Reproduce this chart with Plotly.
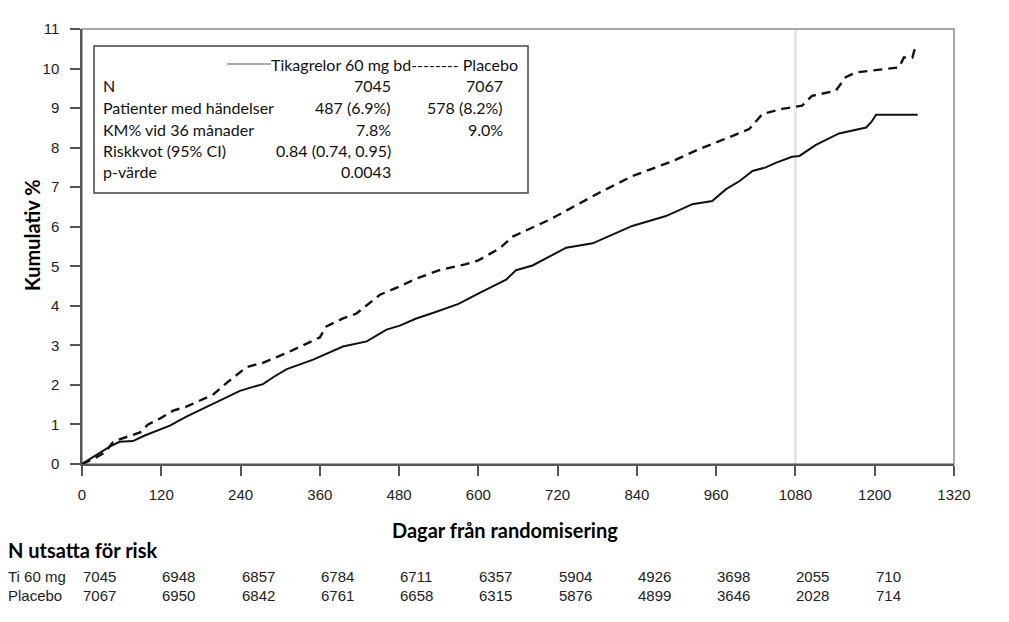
"""
Kaplan-Meier-kurva: kumulativ incidens, Tikagrelor 60 mg bd vs placebo,
med risktabell under x-axeln.
"""

import plotly.graph_objects as go

# Avlästa punkter (dag, kumulativ %)
tica_days = [0, 20, 42, 57, 77, 95, 118, 133, 158, 174, 209, 239, 259, 274, 290,
             310, 350, 395, 431, 461, 481, 506, 531, 570, 602, 642, 657, 682, 733,
             773, 833, 884, 924, 954, 975, 995, 1015, 1035, 1051, 1075, 1086, 1111,
             1146, 1187, 1195, 1202, 1265]
tica_pct = [0, 0.2, 0.44, 0.56, 0.58, 0.72, 0.88, 0.97, 1.2, 1.33, 1.62, 1.85, 1.95,
            2.02, 2.2, 2.4, 2.64, 2.97, 3.1, 3.4, 3.5, 3.68, 3.82, 4.05, 4.33, 4.66,
            4.9, 5.02, 5.47, 5.58, 6.02, 6.27, 6.57, 6.65, 6.95, 7.15, 7.41, 7.5,
            7.62, 7.77, 7.79, 8.07, 8.36, 8.51, 8.65, 8.83, 8.83]

plac_days = [0, 20, 35, 47, 53, 88, 100, 118, 138, 158, 198, 219, 249, 274, 310,
             350, 360, 370, 395, 415, 451, 481, 506, 541, 580, 600, 632, 652, 708,
             783, 833, 894, 934, 985, 1010, 1030, 1060, 1090, 1105, 1141, 1156, 1171,
             1237, 1244, 1257, 1262]
plac_pct = [0, 0.15, 0.3, 0.55, 0.6, 0.8, 1.0, 1.15, 1.35, 1.45, 1.75, 2.05, 2.45,
            2.56, 2.81, 3.12, 3.2, 3.48, 3.68, 3.8, 4.28, 4.49, 4.69, 4.9, 5.05, 5.15,
            5.45, 5.75, 6.18, 6.86, 7.28, 7.66, 7.96, 8.3, 8.47, 8.85, 8.98, 9.06,
            9.31, 9.44, 9.78, 9.9, 10.03, 10.28, 10.28, 10.58]

# Risktabell
risk_days = [0, 120, 240, 360, 480, 600, 720, 840, 960, 1080, 1200]
risk_tica = [7045, 6948, 6857, 6784, 6711, 6357, 5904, 4926, 3698, 2055, 710]
risk_plac = [7067, 6950, 6842, 6761, 6658, 6315, 5876, 4899, 3646, 2028, 714]
risk_labels = ["Ti 60 mg", "Placebo"]

# Sammanfattningsruta
box_labels = ["N", "Patienter med händelser", "KM% vid 36 månader",
              "Riskkvot (95% CI)", "p-värde"]
box_tica = ["7045", "487 (6.9%)", "7.8%", "0.84 (0.74, 0.95)", "0.0043"]
box_plac = ["7067", "578 (8.2%)", "9.0%", "", ""]

x_ticks = list(range(0, 1321, 120))
y_ticks = list(range(0, 12))

# sidan har 8 px marginal, så figuren görs 8 px mindre och förskjuts
W, H = 1001, 614
L, R, T, B = 74, 55, 21, 158
PLOT_X0, PLOT_X1, PLOT_Y0, PLOT_Y1 = 82, 954, 29, 464   # i referensens pixlar


def px_x(px):
    return (px - PLOT_X0) / (PLOT_X1 - PLOT_X0)


def px_y(py):
    return (PLOT_Y1 - py) / (PLOT_Y1 - PLOT_Y0)


TITLE_FONT = dict(family="Lato, Open Sans, sans-serif", size=20, color="#000")
BOX_FONT = dict(family="Lato, Open Sans, sans-serif", size=16, color="#111")
TICK_FONT = dict(family="Liberation Sans, Arial, sans-serif", size=15, color="#222")

fig = go.Figure()

fig.add_trace(go.Scatter(
    x=plac_days, y=plac_pct, mode="lines",
    line=dict(color="#111", width=2.4, dash="9px,6px"),
    name="Placebo",
))
fig.add_trace(go.Scatter(
    x=tica_days, y=tica_pct, mode="lines",
    line=dict(color="#111", width=2),
    name="Tikagrelor 60 mg bd",
))

# ljusgrå linje vid 36 månader
fig.add_vline(x=1080, line_color="#e6e6e6", line_width=3, layer="below")

# ram runt plottytan
fig.add_shape(type="rect", xref="paper", yref="paper", x0=0, x1=1, y0=0, y1=1,
              line=dict(color="#8a8a8a", width=1.5), layer="below")

# sammanfattningsruta
fig.add_shape(type="rect", xref="paper", yref="paper",
              x0=px_x(94), x1=px_x(528), y0=px_y(193), y1=px_y(46),
              line=dict(color="#444", width=1.5), fillcolor="white")
fig.add_shape(type="line", xref="paper", yref="paper",
              x0=px_x(227), x1=px_x(271), y0=px_y(64), y1=px_y(64),
              line=dict(color="#555", width=1))
fig.add_annotation(text="Tikagrelor 60 mg bd-------- Placebo", xref="paper", yref="paper",
                   x=px_x(520), y=px_y(64), xanchor="right", yanchor="middle",
                   showarrow=False, font=BOX_FONT)

row_y = [85, 107, 129, 150, 172]
for lab, v1, v2, ry in zip(box_labels, box_tica, box_plac, row_y):
    fig.add_annotation(text=lab, xref="paper", yref="paper", x=px_x(101), y=px_y(ry),
                       xanchor="left", yanchor="middle", showarrow=False, font=BOX_FONT)
    fig.add_annotation(text=v1, xref="paper", yref="paper", x=px_x(393), y=px_y(ry),
                       xanchor="right", yanchor="middle", showarrow=False, font=BOX_FONT)
    if v2:
        fig.add_annotation(text=v2, xref="paper", yref="paper", x=px_x(505), y=px_y(ry),
                           xanchor="right", yanchor="middle", showarrow=False,
                           font=BOX_FONT)

# axeltitlar
fig.add_annotation(text="<b>Dagar från randomisering</b>", xref="paper", yref="paper",
                   x=px_x(505), y=px_y(530), xanchor="center", yanchor="middle",
                   showarrow=False, font=TITLE_FONT)
fig.add_annotation(text="<b>Kumulativ %</b>", xref="paper", yref="paper",
                   x=px_x(32), y=px_y(235), xanchor="center", yanchor="middle",
                   textangle=-90, showarrow=False, font=TITLE_FONT)

# risktabell
fig.add_annotation(text="<b>N utsatta för risk</b>", xref="paper", yref="paper",
                   x=px_x(6), y=px_y(550), xanchor="left", yanchor="middle",
                   showarrow=False, font=TITLE_FONT)
for lab, vals, ry in zip(risk_labels, [risk_tica, risk_plac], [576, 595]):
    fig.add_annotation(text=lab, xref="paper", yref="paper", x=px_x(6), y=px_y(ry),
                       xanchor="left", yanchor="middle", showarrow=False, font=TICK_FONT)
    for d, v in zip(risk_days, vals):
        fig.add_annotation(text=str(v), xref="x", yref="paper", x=d, y=px_y(ry),
                           xanchor="left", yanchor="middle", showarrow=False,
                           xshift=-1, font=TICK_FONT)

fig.update_xaxes(
    range=[0, 1320], tickvals=x_ticks, ticks="outside", ticklen=10, tickwidth=1.5,
    tickcolor="#555", showline=True, linecolor="#555", linewidth=1.5,
    showgrid=False, zeroline=False, tickfont=TICK_FONT, ticklabelstandoff=6,
)
fig.update_yaxes(
    range=[0, 11], tickvals=y_ticks, ticks="outside", ticklen=10, tickwidth=1.5,
    tickcolor="#555", showline=True, linecolor="#555", linewidth=1.5,
    showgrid=False, zeroline=False, tickfont=TICK_FONT, ticklabelstandoff=8,
)

fig.update_layout(
    width=W, height=H,
    margin=dict(l=L, r=R, t=T, b=B),
    plot_bgcolor="white", paper_bgcolor="white",
    showlegend=False,
)

fig.write_html("out.html")
